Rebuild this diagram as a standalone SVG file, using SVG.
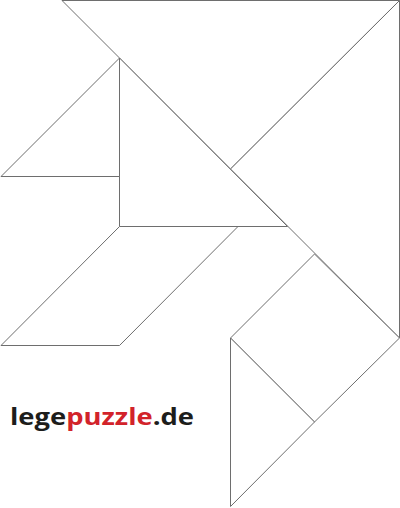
<svg xmlns="http://www.w3.org/2000/svg" width="400" height="508" viewBox="0 0 400 508">
<style>
.p{fill:#fff;stroke:#6e6e6e;stroke-width:1;stroke-linejoin:miter}
.t{font-family:"Open Sans","Noto Sans","Liberation Sans",sans-serif;font-weight:bold;font-size:23px}
</style>
<rect width="400" height="508" fill="#fff"/>
<g id="big1"><polygon class="p" points="62,0.5 399.5,0.5 230.5,169"/></g>
<g id="big2"><polygon class="p" points="399.5,0.5 230.5,169 399.5,338"/></g>
<g id="medium"><polygon class="p" points="119.5,58 119.5,226.5 287.5,226.5"/></g>
<g id="small1"><polygon class="p" points="1,176.5 119.5,176.5 119.5,58"/></g>
<g id="parallelogram"><polygon class="p" points="119.5,226.5 238,226.5 119.5,345.5 1,345.5"/></g>
<g id="square"><polygon class="p" points="314.5,254 399.5,338 314.5,422 230.5,338"/></g>
<g id="small2"><polygon class="p" points="230.5,338 314.5,422 230.5,506.5"/></g>
<g id="logo"><text class="t" x="10" y="425" textLength="184" lengthAdjust="spacingAndGlyphs"><tspan fill="#1d1d1b">lege</tspan><tspan fill="#d2232a">puzzle</tspan><tspan fill="#1d1d1b">.de</tspan></text></g>
</svg>
